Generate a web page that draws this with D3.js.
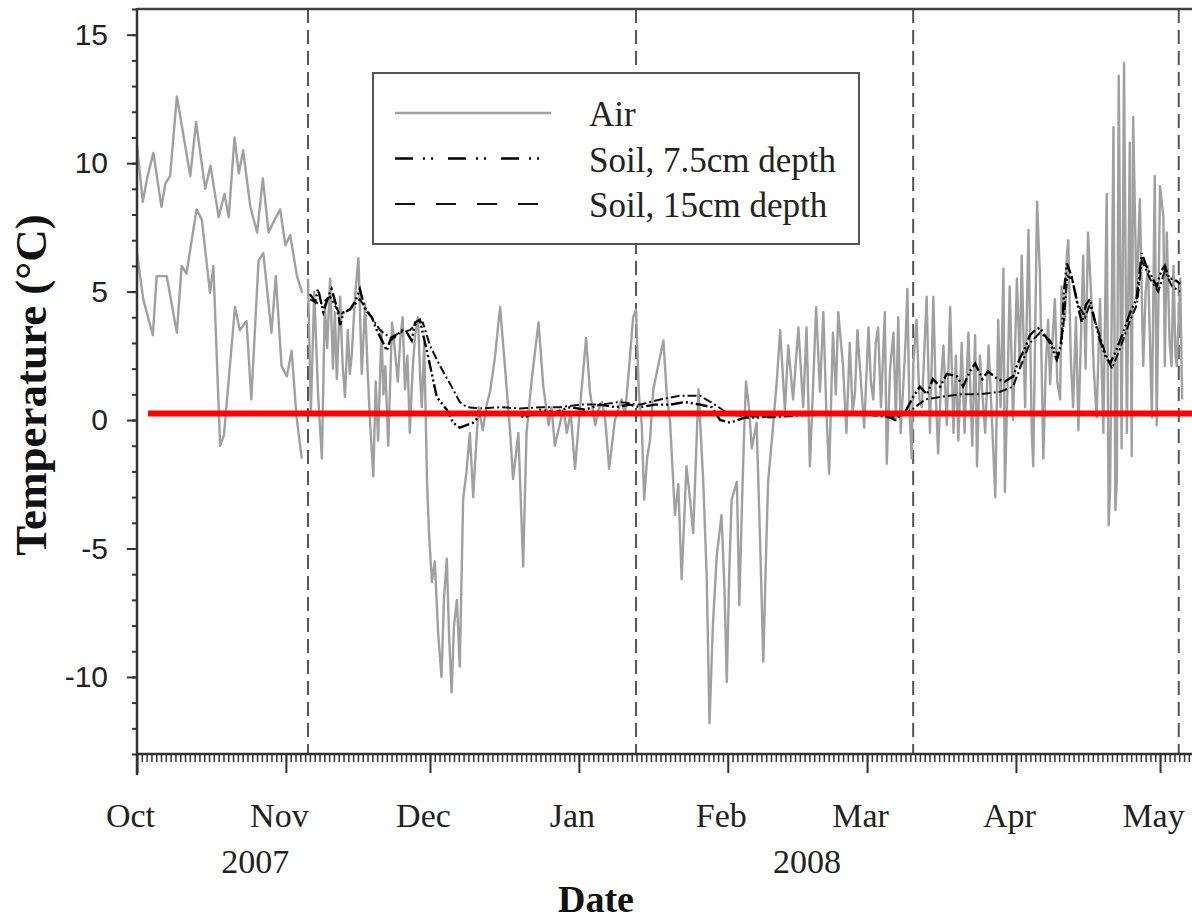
<!DOCTYPE html>
<html>
<head>
<meta charset="utf-8">
<script src="https://cdn.jsdelivr.net/npm/d3@7"></script>
<style>
  body { margin: 0; background: #fff; }
  svg { display: block; }
  .num { font-family: "Liberation Sans", Arial, sans-serif; }
  .serif { font-family: "Liberation Serif", "Times New Roman", serif; }
</style>
</head>
<body>
<div id="chart"></div>
<script>
// all series: [days since 1 Oct 2007, temperature in °C]
let airOctUpper = [[0,10.7],[1.2,8.5],[2.1,9.4],[3.4,10.4],[5.1,8.3],[5.9,9.2],[6.9,9.5],[8.3,12.6],[11.1,9.5],[12.3,11.6],[14.2,9.0],[15.3,9.9],[17.0,7.9],[18.2,8.8],[19.1,7.9],[20.3,11.0],[21.2,9.6],[22.1,10.5],[23.6,8.3],[25.0,7.3],[26.2,9.4],[27.4,7.3],[28.4,7.7],[29.8,8.2],[30.9,6.8],[31.9,7.2],[33.3,5.6],[34.4,4.95]];

let airOctLower = [[0,6.5],[1.3,4.7],[3.3,3.3],[4.1,5.6],[6.2,5.6],[8.3,3.4],[9.3,6.0],[10.3,5.7],[12.4,8.2],[13.5,7.8],[15.2,4.95],[15.9,6.0],[17.3,-1.0],[18.1,-0.6],[20.4,4.4],[21.4,3.5],[22.8,3.85],[23.8,0.8],[25.3,6.2],[26.3,6.5],[27.3,4.7],[28.0,3.4],[28.9,5.6],[30.1,2.1],[31.2,1.7],[32.2,2.7],[33.2,0.15],[34.3,-1.5]];

let airMain = [[35.6,5.5],[36.2,0.3],[36.9,5.0],[37.4,2.5],[37.7,1.0],[38.5,-1.5],[39.1,4.5],[39.6,2.8],[40.2,5.5],[40.8,2.0],[41.2,4.2],[41.6,1.6],[42.3,4.8],[42.8,2.2],[43.3,0.9],[43.9,3.5],[44.3,1.8],[44.7,2.5],[45.4,4.8],[46.1,6.3],[46.8,1.8],[47.5,4.5],[48.0,2.0],[48.5,0.0],[49.2,-2.2],[49.7,1.5],[50.2,-0.8],[50.9,3.5],[51.3,1.0],[51.7,2.1],[52.3,-1.0],[53.1,3.8],[53.7,2.7],[54.3,1.5],[54.8,3.1],[55.3,4.0],[55.8,1.2],[56.3,2.5],[56.8,-0.5],[57.4,2.0],[57.9,3.3],[58.5,4.0],[59.0,1.5],[59.3,0.5],[59.8,3.0],[60.4,-2.5],[60.8,-4.4],[61.4,-6.3],[62.0,-5.5],[62.7,-8.3],[63.4,-10.0],[63.9,-7.0],[64.5,-5.4],[65.0,-8.5],[65.5,-10.6],[66.0,-8.0],[66.6,-7.0],[67.2,-9.6],[67.9,-3.1],[68.6,-2.0],[69.3,-0.5],[70.0,-3.0],[70.6,-1.0],[71.1,0.5],[72.0,-0.4],[72.8,0.6],[73.5,1.1],[74.5,2.4],[75.6,4.4],[76.6,2.1],[77.7,-0.5],[78.3,-2.3],[79.4,-0.5],[80.4,-5.7],[81.1,-0.5],[82.2,1.6],[83.6,3.8],[84.6,1.3],[85.7,-0.2],[86.3,0.5],[87.0,-1.0],[88.1,-0.1],[88.8,0.4],[89.5,-0.5],[90.3,0.3],[91.2,-1.9],[92.2,0.4],[93.5,3.2],[94.3,1.1],[95.4,-0.2],[96.1,0.4],[96.8,0.7],[97.5,0.0],[98.3,-1.9],[99.5,0.0],[100.2,0.4],[100.9,0.8],[101.6,0.2],[102.3,1.7],[103.3,4.0],[103.9,4.3],[104.5,1.0],[105.1,-0.2],[105.6,-3.1],[106.2,-1.5],[106.8,-0.8],[107.5,1.2],[108.5,2.1],[109.6,3.1],[110.3,1.0],[111.0,-0.1],[112.0,-3.7],[112.7,-2.5],[113.4,-6.2],[114.4,-1.8],[115.1,-3.0],[115.8,-4.4],[116.9,1.2],[117.9,-2.4],[118.6,-6.0],[119.2,-11.8],[119.9,-8.0],[120.7,-5.3],[121.7,-3.7],[122.3,-6.5],[122.8,-10.2],[123.3,-6.0],[123.8,-3.1],[124.9,-2.4],[125.4,-7.2],[126.0,-3.0],[126.4,-0.5],[126.8,1.5],[127.4,0.5],[128.0,-1.1],[129.0,-0.1],[129.7,-4.5],[130.4,-9.4],[131.0,-5.0],[131.4,-2.4],[132.5,-0.1],[133.2,1.5],[133.9,3.5],[134.9,0.4],[135.6,2.9],[136.6,0.8],[137.7,3.6],[138.7,0.5],[139.4,3.6],[140.1,-1.8],[140.8,1.5],[141.4,4.4],[142.2,1.1],[142.9,4.2],[143.5,0.5],[144.1,-2.1],[144.9,3.4],[145.5,1.0],[146.0,4.2],[147.0,2.1],[147.7,-0.5],[148.4,3.0],[149.0,0.3],[149.5,1.1],[150.0,3.5],[150.5,2.1],[151.4,-0.3],[152.3,3.6],[152.8,1.5],[153.3,0.8],[153.8,3.0],[154.3,3.6],[154.9,0.5],[155.7,4.2],[156.1,-1.7],[156.8,2.0],[157.5,3.4],[158.0,0.0],[158.5,4.0],[159.0,-0.5],[159.5,1.2],[160.0,3.0],[160.4,5.1],[160.8,0.5],[161.3,-1.5],[161.6,2.1],[162.3,3.9],[162.9,0.8],[163.4,0.5],[164.0,3.0],[164.4,4.8],[165.1,-0.5],[165.8,4.8],[166.3,1.0],[166.8,-1.3],[167.4,1.5],[167.9,2.9],[168.6,-0.2],[169.3,4.4],[170.0,-0.5],[170.5,2.5],[171.0,-0.8],[171.7,3.0],[172.3,-0.5],[173.1,3.4],[173.9,-1.0],[174.5,3.3],[174.9,-1.8],[175.5,2.5],[175.9,1.3],[176.6,-0.5],[177.3,2.9],[178.0,0.0],[178.7,-3.0],[179.3,3.9],[179.8,0.5],[180.4,5.9],[180.7,-2.8],[181.2,1.0],[181.7,5.2],[182.4,0.0],[183.2,5.5],[183.8,2.1],[184.2,6.4],[184.9,0.5],[185.6,7.4],[186.3,-0.5],[186.6,-1.8],[187.4,8.5],[188.0,5.6],[188.7,-1.5],[189.2,2.0],[189.7,3.9],[190.1,1.4],[191.1,4.7],[191.6,1.5],[192.2,0.8],[192.5,5.2],[193.2,3.9],[193.6,6.4],[193.9,7.0],[194.4,2.5],[194.9,0.5],[195.5,4.0],[196.0,-0.4],[196.5,3.0],[197.0,6.4],[197.5,2.0],[198.0,7.3],[198.7,4.7],[199.2,2.0],[199.8,0.1],[200.5,4.7],[201.2,-0.5],[201.9,8.8],[202.3,-4.1],[202.6,-2.7],[203.3,11.4],[203.7,-3.5],[204.0,-2.4],[204.4,13.4],[205.0,-1.1],[205.5,13.9],[206.1,-0.5],[206.7,10.8],[207.1,-1.4],[207.4,11.8],[208.1,4.7],[208.8,8.6],[209.5,2.1],[210.0,5.0],[210.5,6.0],[211.3,0.1],[211.9,9.5],[212.3,-0.2],[213.0,9.1],[213.7,7.9],[214.0,2.1],[214.4,7.3],[215.0,3.0],[215.4,2.1],[215.8,6.0],[216.2,2.5],[216.5,2.1],[217.2,5.5],[217.6,0.8]];

let soil75 = [[36.0,4.9],[37.1,4.6],[37.7,5.1],[38.8,4.2],[39.8,4.8],[40.5,5.1],[41.6,4.4],[42.3,3.7],[43.0,4.2],[44.3,4.3],[45.4,4.6],[46.4,5.1],[47.5,4.3],[48.9,4.0],[49.9,3.5],[51.0,3.1],[52.0,2.7],[52.7,3.1],[54.1,3.3],[55.1,3.5],[56.2,3.4],[57.2,3.1],[57.9,3.8],[58.9,3.9],[59.6,3.3],[60.7,2.4],[62.4,0.9],[64.5,0.4],[65.8,-0.1],[67.2,-0.3],[68.6,-0.2],[70.0,-0.1],[72.0,0.3],[74.5,0.2],[77.7,0.3],[80.8,0.1],[83.9,0.4],[87.0,0.3],[90.2,0.5],[93.3,0.4],[96.4,0.6],[99.5,0.5],[102.6,0.6],[104.7,0.5],[107.8,0.6],[111.0,0.6],[114.1,0.7],[117.2,0.6],[119.7,0.5],[121.4,0.0],[123.5,-0.1],[126.6,0.1],[129.7,0.1],[132.8,0.2],[136.0,0.2],[139.1,0.3],[142.2,0.3],[145.3,0.2],[148.4,0.3],[151.6,0.2],[154.7,0.3],[157.8,0.0],[159.9,0.3],[161.6,0.9],[163.0,1.3],[164.5,1.0],[165.7,1.6],[167.2,1.3],[168.6,1.8],[170.7,1.7],[172.0,1.3],[173.4,1.9],[174.5,2.2],[176.0,1.6],[177.2,1.9],[179.1,1.6],[180.7,1.5],[182.4,1.7],[183.8,2.4],[184.9,2.8],[185.9,3.3],[187.0,3.5],[188.0,3.6],[189.0,3.3],[190.1,3.0],[191.5,2.35],[192.5,3.0],[193.0,5.0],[193.6,6.1],[194.6,5.6],[195.7,4.6],[196.7,3.8],[197.6,4.5],[198.4,4.7],[199.5,3.8],[200.5,3.1],[201.6,2.5],[202.6,2.2],[203.6,2.6],[204.7,3.1],[205.7,3.6],[206.8,4.2],[208.1,4.7],[209.2,6.5],[210.1,6.0],[210.9,5.7],[212.3,5.2],[213.2,5.8],[214.0,6.0],[214.9,5.5],[215.8,5.5],[217.2,5.3]];

let soil15 = [[36.0,4.7],[38.1,4.5],[40.2,4.8],[42.3,4.1],[44.3,4.3],[46.4,4.7],[48.5,4.1],[50.6,3.5],[52.7,3.2],[54.8,3.4],[56.8,3.5],[58.5,3.8],[59.5,3.8],[61.0,2.9],[63.1,2.1],[65.8,1.2],[67.2,0.7],[68.7,0.5],[71.4,0.45],[75.6,0.5],[79.7,0.45],[83.9,0.5],[88.1,0.5],[92.2,0.6],[96.4,0.6],[100.6,0.7],[104.7,0.6],[108.9,0.8],[113.1,0.95],[117.2,0.95],[120.3,0.6],[123.5,0.2],[127.6,0.15],[131.8,0.1],[136.0,0.15],[140.1,0.2],[144.3,0.2],[148.4,0.2],[152.6,0.2],[156.8,0.1],[159.9,0.2],[162.0,0.5],[164.1,0.8],[167.2,0.9],[171.4,1.0],[175.5,1.0],[179.7,1.1],[182.4,1.3],[183.8,2.0],[185.9,3.0],[188.0,3.4],[190.1,3.1],[191.8,2.5],[192.8,3.5],[193.7,5.6],[194.7,5.5],[195.9,4.5],[197.4,4.0],[198.4,4.5],[199.9,3.6],[201.6,2.6],[203.0,2.0],[204.7,2.8],[206.8,3.9],[208.2,4.5],[209.2,6.2],[210.9,5.5],[212.6,5.0],[214.0,5.8],[215.5,5.2],[217.2,5.0]];

let periodMarks = [35.6, 103.9, 161.6, 216.9];   // vertical dashed dividers
let redLevel = 0.25, redFrom = 2.3;              // thick red reference line
let monthNames = ['Oct', 'Nov', 'Dec', 'Jan', 'Feb', 'Mar', 'Apr', 'May'];
let yearLabels = [['2007', 24.6], ['2008', 139.5]];
let yMajor = [-10, -5, 0, 5, 10, 15];
let legendNames = ['Air', 'Soil, 7.5cm depth', 'Soil, 15cm depth'];

let width = 1192, height = 922,
    margin = {left: 137, top: 9, bottom: 754};

let start = new Date(Date.UTC(2007, 9, 1)),
    end = new Date(Date.UTC(2008, 4, 9));
let toDate = d => new Date(start.getTime() + d * 864e5);

let x = d3.scaleUtc().domain([start, end]).range([margin.left, margin.left + 221 * 4.803]);
let y = d3.scaleLinear().domain([-13, 16]).range([margin.bottom, margin.top]);

let svg = d3.select('#chart').append('svg')
    .attr('width', width)
    .attr('height', height);

svg.append('clipPath').attr('id', 'plot')
  .append('rect')
    .attr('x', margin.left).attr('y', margin.top)
    .attr('width', width - margin.left).attr('height', margin.bottom - margin.top);

let line = d3.line()
    .x(d => x(toDate(d[0])))
    .y(d => y(d[1]));

let plot = svg.append('g').attr('clip-path', 'url(#plot)');

// period dividers
plot.selectAll('line.mark')
  .data(periodMarks)
  .enter().append('line')
    .attr('class', 'mark')
    .attr('x1', d => x(toDate(d))).attr('x2', d => x(toDate(d)))
    .attr('y1', margin.top).attr('y2', margin.bottom)
    .attr('stroke', '#555')
    .attr('stroke-width', 2)
    .attr('stroke-dasharray', '14,7');

// air
plot.selectAll('path.air')
  .data([airOctUpper, airOctLower, airMain])
  .enter().append('path')
    .attr('class', 'air')
    .attr('fill', 'none')
    .attr('stroke', '#a0a0a0')
    .attr('stroke-width', 2.4)
    .attr('stroke-linejoin', 'round')
    .attr('d', line);

// soil
plot.append('path')
    .attr('fill', 'none')
    .attr('stroke', '#111')
    .attr('stroke-width', 2)
    .attr('stroke-dasharray', '9,3,2,3')
    .attr('d', line(soil15));

plot.append('path')
    .attr('fill', 'none')
    .attr('stroke', '#000')
    .attr('stroke-width', 2.4)
    .attr('stroke-dasharray', '12,3,2,3,2,3')
    .attr('d', line(soil75));

// red reference line
plot.append('line')
    .attr('x1', x(toDate(redFrom))).attr('x2', width)
    .attr('y1', y(redLevel)).attr('y2', y(redLevel))
    .attr('stroke', '#ff0000')
    .attr('stroke-width', 6);

// frame top
svg.append('line')
    .attr('x1', margin.left).attr('x2', width)
    .attr('y1', margin.top).attr('y2', margin.top)
    .attr('stroke', '#444').attr('stroke-width', 2.5);

// y axis
let yAxis = svg.append('g')
    .attr('transform', `translate(${margin.left},0)`)
    .call(d3.axisLeft(y).tickValues(d3.range(-13, 17)).tickSize(5).tickFormat(''));
let yMaj = svg.append('g')
    .attr('transform', `translate(${margin.left},0)`)
    .call(d3.axisLeft(y).tickValues(yMajor).tickSize(10).tickPadding(19).tickFormat(d => String(d)));
[yAxis, yMaj].forEach(g => {
  g.select('.domain').remove();
  g.selectAll('line').attr('stroke', '#333').attr('stroke-width', 2);
});
yMaj.selectAll('text')
    .attr('class', 'num')
    .attr('font-size', 30)
    .attr('fill', '#222');
svg.append('line')
    .attr('x1', margin.left).attr('x2', margin.left)
    .attr('y1', margin.top - 1).attr('y2', margin.bottom + 21)
    .attr('stroke', '#333').attr('stroke-width', 2.5);

// x axis
let xDays = svg.append('g')
    .attr('transform', `translate(0,${margin.bottom})`)
    .call(d3.axisBottom(x).ticks(d3.utcDay.every(1)).tickSize(8).tickFormat(''));
let months = d3.utcMonth.range(start, end);
let xMaj = svg.append('g')
    .attr('transform', `translate(0,${margin.bottom})`)
    .call(d3.axisBottom(x).tickValues(months).tickSize(19).tickPadding(30)
      .tickFormat((d, i) => monthNames[i]));
[xDays, xMaj].forEach(g => {
  g.select('.domain').remove();
  g.selectAll('line').attr('stroke', '#333').attr('stroke-width', 1.5);
});
xMaj.selectAll('line').attr('stroke-width', 2);
xMaj.selectAll('text')
    .attr('class', 'serif')
    .attr('font-size', 34)
    .attr('fill', '#222')
    .attr('dx', -7);
svg.append('line')
    .attr('x1', margin.left).attr('x2', width)
    .attr('y1', margin.bottom).attr('y2', margin.bottom)
    .attr('stroke', '#333').attr('stroke-width', 2.5);

svg.selectAll('text.year')
  .data(yearLabels)
  .enter().append('text')
    .attr('class', 'year serif')
    .attr('x', d => x(toDate(d[1])))
    .attr('y', 873)
    .attr('text-anchor', 'middle')
    .attr('font-size', 34)
    .attr('fill', '#222')
    .text(d => d[0]);

svg.append('text')
    .attr('class', 'serif')
    .attr('x', 596).attr('y', 912)
    .attr('text-anchor', 'middle')
    .attr('font-size', 38)
    .attr('font-weight', 'bold')
    .attr('fill', '#111')
    .text('Date');

svg.append('text')
    .attr('class', 'serif')
    .attr('transform', 'translate(46,385) rotate(-90)')
    .attr('text-anchor', 'middle')
    .attr('font-size', 45)
    .attr('font-weight', 'bold')
    .attr('fill', '#111')
    .text('Temperature (°C)');

// legend
let legend = svg.append('g');
legend.append('rect')
    .attr('x', 373).attr('y', 73)
    .attr('width', 486).attr('height', 171)
    .attr('fill', '#fff')
    .attr('stroke', '#555')
    .attr('stroke-width', 2);

let legendStyle = [
  {stroke: '#a0a0a0', dash: null, w: 2.4},
  {stroke: '#000', dash: '18,10,2,6,2,15', w: 2.4},
  {stroke: '#111', dash: '20,21', w: 2}
];
let rows = legend.selectAll('g.row')
  .data(legendNames)
  .enter().append('g')
    .attr('class', 'row')
    .attr('transform', (d, i) => `translate(0,${113 + i * 45.5})`);
rows.append('line')
    .attr('x1', 395).attr('x2', 551)
    .attr('stroke', (d, i) => legendStyle[i].stroke)
    .attr('stroke-width', (d, i) => legendStyle[i].w)
    .attr('stroke-dasharray', (d, i) => legendStyle[i].dash);
rows.append('text')
    .attr('class', 'serif')
    .attr('x', 589).attr('y', 13)
    .attr('font-size', 35)
    .attr('fill', '#222')
    .text(d => d);
</script>
</body>
</html>
